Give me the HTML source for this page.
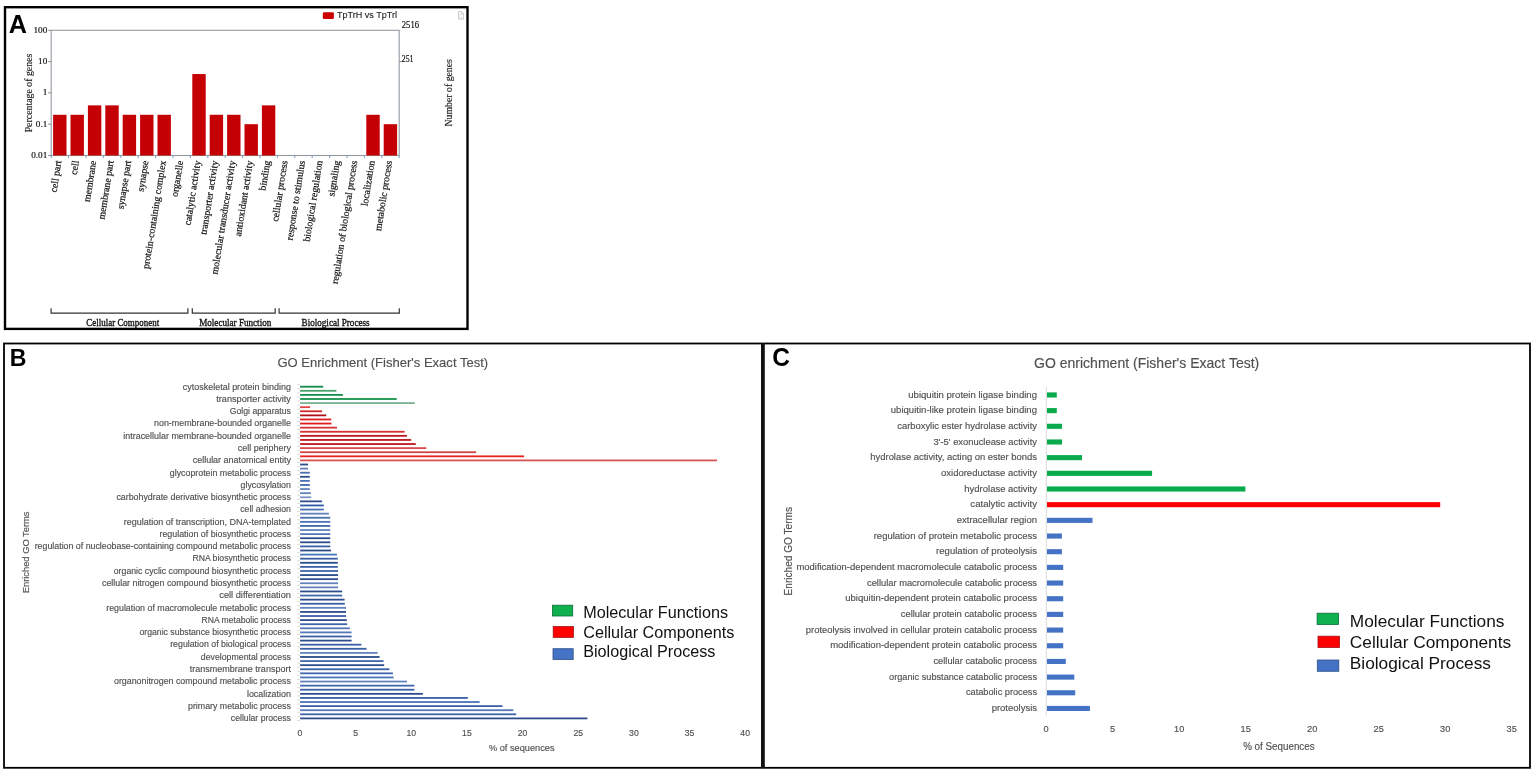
<!DOCTYPE html>
<html><head><meta charset="utf-8"><title>GO enrichment figure</title>
<style>
html,body{margin:0;padding:0;background:#fff;}
body{width:1535px;height:771px;overflow:hidden;}
svg{display:block;}

</style></head>
<body>
<svg width="1535" height="771" viewBox="0 0 1535 771" font-family="Liberation Sans, sans-serif">
<rect width="1535" height="771" fill="#fff"/>
<rect x="5" y="7.2" width="462.5" height="321.7" fill="none" stroke="#000" stroke-width="2.4"/>
<text x="8.7" y="32.5" font-family="'Liberation Sans', sans-serif" font-weight="bold" font-size="25.2" fill="#000">A</text>
<rect x="51.2" y="30.3" width="348.0" height="125.2" fill="none" stroke="#929aa2" stroke-width="1.1"/>
<line x1="48.2" y1="30.30" x2="51.2" y2="30.30" stroke="#8a8a8a" stroke-width="1"/>
<text x="47.30" y="32.80" font-family="'Liberation Serif', serif" font-size="9.2" fill="#111" stroke="#111" stroke-width="0.2" text-anchor="end">100</text>
<line x1="48.2" y1="61.60" x2="51.2" y2="61.60" stroke="#8a8a8a" stroke-width="1"/>
<text x="47.30" y="64.10" font-family="'Liberation Serif', serif" font-size="9.2" fill="#111" stroke="#111" stroke-width="0.2" text-anchor="end">10</text>
<line x1="48.2" y1="92.90" x2="51.2" y2="92.90" stroke="#8a8a8a" stroke-width="1"/>
<text x="47.30" y="95.40" font-family="'Liberation Serif', serif" font-size="9.2" fill="#111" stroke="#111" stroke-width="0.2" text-anchor="end">1</text>
<line x1="48.2" y1="124.20" x2="51.2" y2="124.20" stroke="#8a8a8a" stroke-width="1"/>
<text x="47.30" y="126.70" font-family="'Liberation Serif', serif" font-size="9.2" fill="#111" stroke="#111" stroke-width="0.2" text-anchor="end">0.1</text>
<line x1="48.2" y1="155.50" x2="51.2" y2="155.50" stroke="#8a8a8a" stroke-width="1"/>
<text x="47.30" y="158.00" font-family="'Liberation Serif', serif" font-size="9.2" fill="#111" stroke="#111" stroke-width="0.2" text-anchor="end">0.01</text>
<text x="401.8" y="28.2" font-family="'Liberation Serif', serif" font-size="10.4" fill="#111" stroke="#111" stroke-width="0.2" textLength="17.2" lengthAdjust="spacingAndGlyphs">2516</text>
<line x1="399.2" y1="61.6" x2="402.2" y2="61.6" stroke="#8a8a8a" stroke-width="1"/>
<text x="401.8" y="61.5" font-family="'Liberation Serif', serif" font-size="10.2" fill="#111" stroke="#111" stroke-width="0.2" textLength="11.7" lengthAdjust="spacingAndGlyphs">251</text>
<text transform="translate(32.2,93) rotate(-90)" font-family="'Liberation Serif', serif" font-size="9.85" fill="#222" stroke="#222" stroke-width="0.15" text-anchor="middle">Percentage of genes</text>
<text transform="translate(451.5,92.8) rotate(-90)" font-family="'Liberation Serif', serif" font-size="9.8" fill="#222" stroke="#222" stroke-width="0.15" text-anchor="middle">Number of genes</text>
<rect x="322.8" y="12.2" width="11.1" height="6.9" rx="1.3" fill="#cc0000"/>
<text x="336.9" y="17.5" font-family="'Liberation Sans', sans-serif" font-size="9.8" fill="#222" stroke="#222" stroke-width="0.12" textLength="60.2" lengthAdjust="spacingAndGlyphs">TpTrH vs TpTrl</text>
<path d="M458.5,11.6 h3.2 l1.7,1.9 v5.7 h-4.9 z" fill="#fbfbfb" stroke="#bdbdbd" stroke-width="0.75"/>
<path d="M461.6,11.7 v1.9 h1.7" fill="none" stroke="#bdbdbd" stroke-width="0.6"/>
<path d="M459.3,14.6 h3.3" fill="none" stroke="#d0d0d0" stroke-width="0.6"/>
<rect x="459.6" y="17.1" width="2.6" height="1.4" fill="#d8d8d8"/>
<rect x="53.10" y="114.78" width="13.4" height="40.72" fill="#c50005"/>
<rect x="70.50" y="114.78" width="13.4" height="40.72" fill="#c50005"/>
<rect x="87.90" y="105.36" width="13.4" height="50.14" fill="#c50005"/>
<rect x="105.30" y="105.36" width="13.4" height="50.14" fill="#c50005"/>
<rect x="122.70" y="114.78" width="13.4" height="40.72" fill="#c50005"/>
<rect x="140.10" y="114.78" width="13.4" height="40.72" fill="#c50005"/>
<rect x="157.50" y="114.78" width="13.4" height="40.72" fill="#c50005"/>
<rect x="192.30" y="74.06" width="13.4" height="81.44" fill="#c50005"/>
<rect x="209.70" y="114.78" width="13.4" height="40.72" fill="#c50005"/>
<rect x="227.10" y="114.78" width="13.4" height="40.72" fill="#c50005"/>
<rect x="244.50" y="124.20" width="13.4" height="31.30" fill="#c50005"/>
<rect x="261.90" y="105.36" width="13.4" height="50.14" fill="#c50005"/>
<rect x="366.30" y="114.78" width="13.4" height="40.72" fill="#c50005"/>
<rect x="383.70" y="124.20" width="13.4" height="31.30" fill="#c50005"/>
<line x1="51.20" y1="155.5" x2="51.20" y2="158.1" stroke="#7f9cc0" stroke-width="1"/>
<line x1="68.60" y1="155.5" x2="68.60" y2="158.1" stroke="#7f9cc0" stroke-width="1"/>
<line x1="86.00" y1="155.5" x2="86.00" y2="158.1" stroke="#7f9cc0" stroke-width="1"/>
<line x1="103.40" y1="155.5" x2="103.40" y2="158.1" stroke="#7f9cc0" stroke-width="1"/>
<line x1="120.80" y1="155.5" x2="120.80" y2="158.1" stroke="#7f9cc0" stroke-width="1"/>
<line x1="138.20" y1="155.5" x2="138.20" y2="158.1" stroke="#7f9cc0" stroke-width="1"/>
<line x1="155.60" y1="155.5" x2="155.60" y2="158.1" stroke="#7f9cc0" stroke-width="1"/>
<line x1="173.00" y1="155.5" x2="173.00" y2="158.1" stroke="#7f9cc0" stroke-width="1"/>
<line x1="190.40" y1="155.5" x2="190.40" y2="158.1" stroke="#7f9cc0" stroke-width="1"/>
<line x1="207.80" y1="155.5" x2="207.80" y2="158.1" stroke="#7f9cc0" stroke-width="1"/>
<line x1="225.20" y1="155.5" x2="225.20" y2="158.1" stroke="#7f9cc0" stroke-width="1"/>
<line x1="242.60" y1="155.5" x2="242.60" y2="158.1" stroke="#7f9cc0" stroke-width="1"/>
<line x1="260.00" y1="155.5" x2="260.00" y2="158.1" stroke="#7f9cc0" stroke-width="1"/>
<line x1="277.40" y1="155.5" x2="277.40" y2="158.1" stroke="#7f9cc0" stroke-width="1"/>
<line x1="294.80" y1="155.5" x2="294.80" y2="158.1" stroke="#7f9cc0" stroke-width="1"/>
<line x1="312.20" y1="155.5" x2="312.20" y2="158.1" stroke="#7f9cc0" stroke-width="1"/>
<line x1="329.60" y1="155.5" x2="329.60" y2="158.1" stroke="#7f9cc0" stroke-width="1"/>
<line x1="347.00" y1="155.5" x2="347.00" y2="158.1" stroke="#7f9cc0" stroke-width="1"/>
<line x1="364.40" y1="155.5" x2="364.40" y2="158.1" stroke="#7f9cc0" stroke-width="1"/>
<line x1="381.80" y1="155.5" x2="381.80" y2="158.1" stroke="#7f9cc0" stroke-width="1"/>
<line x1="399.20" y1="155.5" x2="399.20" y2="158.1" stroke="#7f9cc0" stroke-width="1"/>
<text transform="translate(61.50,161.1) rotate(-81)" font-family="'Liberation Serif', serif" font-size="9.9" fill="#111" stroke="#111" stroke-width="0.2" text-anchor="end">cell part</text>
<text transform="translate(78.90,161.1) rotate(-81)" font-family="'Liberation Serif', serif" font-size="9.9" fill="#111" stroke="#111" stroke-width="0.2" text-anchor="end">cell</text>
<text transform="translate(96.30,161.1) rotate(-81)" font-family="'Liberation Serif', serif" font-size="9.9" fill="#111" stroke="#111" stroke-width="0.2" text-anchor="end">membrane</text>
<text transform="translate(113.70,161.1) rotate(-81)" font-family="'Liberation Serif', serif" font-size="9.9" fill="#111" stroke="#111" stroke-width="0.2" text-anchor="end">membrane part</text>
<text transform="translate(131.10,161.1) rotate(-81)" font-family="'Liberation Serif', serif" font-size="9.9" fill="#111" stroke="#111" stroke-width="0.2" text-anchor="end">synapse part</text>
<text transform="translate(148.50,161.1) rotate(-81)" font-family="'Liberation Serif', serif" font-size="9.9" fill="#111" stroke="#111" stroke-width="0.2" text-anchor="end">synapse</text>
<text transform="translate(165.90,161.1) rotate(-81)" font-family="'Liberation Serif', serif" font-size="9.9" fill="#111" stroke="#111" stroke-width="0.2" text-anchor="end">protein-containing complex</text>
<text transform="translate(183.30,161.1) rotate(-81)" font-family="'Liberation Serif', serif" font-size="9.9" fill="#111" stroke="#111" stroke-width="0.2" text-anchor="end">organelle</text>
<text transform="translate(200.70,161.1) rotate(-81)" font-family="'Liberation Serif', serif" font-size="9.9" fill="#111" stroke="#111" stroke-width="0.2" text-anchor="end">catalytic activity</text>
<text transform="translate(218.10,161.1) rotate(-81)" font-family="'Liberation Serif', serif" font-size="9.9" fill="#111" stroke="#111" stroke-width="0.2" text-anchor="end">transporter activity</text>
<text transform="translate(235.50,161.1) rotate(-81)" font-family="'Liberation Serif', serif" font-size="9.9" fill="#111" stroke="#111" stroke-width="0.2" text-anchor="end">molecular transducer activity</text>
<text transform="translate(252.90,161.1) rotate(-81)" font-family="'Liberation Serif', serif" font-size="9.9" fill="#111" stroke="#111" stroke-width="0.2" text-anchor="end">antioxidant activity</text>
<text transform="translate(270.30,161.1) rotate(-81)" font-family="'Liberation Serif', serif" font-size="9.9" fill="#111" stroke="#111" stroke-width="0.2" text-anchor="end">binding</text>
<text transform="translate(287.70,161.1) rotate(-81)" font-family="'Liberation Serif', serif" font-size="9.9" fill="#111" stroke="#111" stroke-width="0.2" text-anchor="end">cellular process</text>
<text transform="translate(305.10,161.1) rotate(-81)" font-family="'Liberation Serif', serif" font-size="9.9" fill="#111" stroke="#111" stroke-width="0.2" text-anchor="end">response to stimulus</text>
<text transform="translate(322.50,161.1) rotate(-81)" font-family="'Liberation Serif', serif" font-size="9.9" fill="#111" stroke="#111" stroke-width="0.2" text-anchor="end">biological regulation</text>
<text transform="translate(339.90,161.1) rotate(-81)" font-family="'Liberation Serif', serif" font-size="9.9" fill="#111" stroke="#111" stroke-width="0.2" text-anchor="end">signaling</text>
<text transform="translate(357.30,161.1) rotate(-81)" font-family="'Liberation Serif', serif" font-size="9.9" fill="#111" stroke="#111" stroke-width="0.2" text-anchor="end">regulation of biological process</text>
<text transform="translate(374.70,161.1) rotate(-81)" font-family="'Liberation Serif', serif" font-size="9.9" fill="#111" stroke="#111" stroke-width="0.2" text-anchor="end">localization</text>
<text transform="translate(392.10,161.1) rotate(-81)" font-family="'Liberation Serif', serif" font-size="9.9" fill="#111" stroke="#111" stroke-width="0.2" text-anchor="end">metabolic process</text>
<path d="M51.1,308.2 V313.2 H187.9 V308.2" fill="none" stroke="#333" stroke-width="1.2"/>
<text x="122.75" y="325.5" font-family="'Liberation Serif', serif" font-size="10.2" fill="#111" stroke="#111" stroke-width="0.35" text-anchor="middle" textLength="72.9" lengthAdjust="spacingAndGlyphs">Cellular Component</text>
<path d="M192.3,308.2 V313.2 H275.2 V308.2" fill="none" stroke="#333" stroke-width="1.2"/>
<text x="235.25" y="325.5" font-family="'Liberation Serif', serif" font-size="10.2" fill="#111" stroke="#111" stroke-width="0.35" text-anchor="middle" textLength="72.1" lengthAdjust="spacingAndGlyphs">Molecular Function</text>
<path d="M279.1,308.2 V313.2 H399.3 V308.2" fill="none" stroke="#333" stroke-width="1.2"/>
<text x="335.6" y="325.5" font-family="'Liberation Serif', serif" font-size="10.2" fill="#111" stroke="#111" stroke-width="0.35" text-anchor="middle" textLength="68" lengthAdjust="spacingAndGlyphs">Biological Process</text>
<rect x="4" y="343.5" width="1526" height="424.3" fill="none" stroke="#000" stroke-width="1.8"/>
<rect x="761" y="343" width="3.8" height="425" fill="#111"/>
<text transform="translate(9.8,366) scale(0.94,1)" font-family="'Liberation Sans', sans-serif" font-weight="bold" font-size="24.6" fill="#000">B</text>
<text x="277.40" y="366.70" font-size="13.58" fill="#505050" textLength="210.72" lengthAdjust="spacingAndGlyphs" stroke="#505050" stroke-width="0.15">GO Enrichment (Fisher&#39;s Exact Test)</text>
<rect x="300.1" y="385.80" width="23.10" height="1.8" fill="#12884a"/>
<rect x="300.1" y="389.90" width="36.30" height="1.8" fill="#4aa56b"/>
<rect x="300.1" y="393.99" width="42.80" height="1.8" fill="#0f8f48"/>
<rect x="300.1" y="398.09" width="96.60" height="1.8" fill="#16934b"/>
<rect x="300.1" y="402.18" width="114.70" height="1.8" fill="#7ab293"/>
<rect x="300.1" y="406.28" width="10.00" height="1.8" fill="#e04444"/>
<rect x="300.1" y="410.37" width="22.00" height="1.8" fill="#d42828"/>
<rect x="300.1" y="414.47" width="26.20" height="1.8" fill="#b01018"/>
<rect x="300.1" y="418.56" width="31.10" height="1.8" fill="#e01c1c"/>
<rect x="300.1" y="422.66" width="31.40" height="1.8" fill="#e01c1c"/>
<rect x="300.1" y="426.75" width="36.90" height="1.8" fill="#d83434"/>
<rect x="300.1" y="430.85" width="104.50" height="1.8" fill="#d83030"/>
<rect x="300.1" y="434.94" width="106.80" height="1.8" fill="#b81520"/>
<rect x="300.1" y="439.04" width="111.10" height="1.8" fill="#c01820"/>
<rect x="300.1" y="443.13" width="115.70" height="1.8" fill="#c0141c"/>
<rect x="300.1" y="447.23" width="126.20" height="1.8" fill="#d84848"/>
<rect x="300.1" y="451.32" width="176.10" height="1.8" fill="#d04444"/>
<rect x="300.1" y="455.42" width="224.00" height="1.8" fill="#e82020"/>
<rect x="300.1" y="459.51" width="416.90" height="1.8" fill="#d85454"/>
<rect x="300.1" y="463.61" width="8.00" height="1.8" fill="#2e4d8c"/>
<rect x="300.1" y="467.70" width="8.00" height="1.8" fill="#6080b8"/>
<rect x="300.1" y="471.80" width="9.70" height="1.8" fill="#4a70b0"/>
<rect x="300.1" y="475.89" width="9.70" height="1.8" fill="#2e4d8c"/>
<rect x="300.1" y="479.99" width="9.70" height="1.8" fill="#4a70b0"/>
<rect x="300.1" y="484.08" width="9.70" height="1.8" fill="#3f66ab"/>
<rect x="300.1" y="488.18" width="9.70" height="1.8" fill="#6283bd"/>
<rect x="300.1" y="492.27" width="10.70" height="1.8" fill="#6283bd"/>
<rect x="300.1" y="496.37" width="11.10" height="1.8" fill="#7a94c4"/>
<rect x="300.1" y="500.46" width="22.00" height="1.8" fill="#2e4d8c"/>
<rect x="300.1" y="504.56" width="23.70" height="1.8" fill="#2f58a8"/>
<rect x="300.1" y="508.65" width="23.70" height="1.8" fill="#4a70b0"/>
<rect x="300.1" y="512.75" width="28.80" height="1.8" fill="#6283bd"/>
<rect x="300.1" y="516.84" width="30.20" height="1.8" fill="#4a70b0"/>
<rect x="300.1" y="520.94" width="30.20" height="1.8" fill="#4a72b8"/>
<rect x="300.1" y="525.03" width="30.20" height="1.8" fill="#3f66ab"/>
<rect x="300.1" y="529.13" width="30.20" height="1.8" fill="#6283bd"/>
<rect x="300.1" y="533.22" width="30.20" height="1.8" fill="#5577b5"/>
<rect x="300.1" y="537.32" width="30.20" height="1.8" fill="#2e4d8c"/>
<rect x="300.1" y="541.41" width="30.20" height="1.8" fill="#2e4d8c"/>
<rect x="300.1" y="545.51" width="30.20" height="1.8" fill="#3a5fa5"/>
<rect x="300.1" y="549.60" width="31.00" height="1.8" fill="#2e4d8c"/>
<rect x="300.1" y="553.70" width="36.80" height="1.8" fill="#4a72b8"/>
<rect x="300.1" y="557.79" width="37.70" height="1.8" fill="#3a5fa5"/>
<rect x="300.1" y="561.89" width="37.70" height="1.8" fill="#2e4d8c"/>
<rect x="300.1" y="565.98" width="37.70" height="1.8" fill="#3a5fa5"/>
<rect x="300.1" y="570.08" width="38.00" height="1.8" fill="#3f66ab"/>
<rect x="300.1" y="574.17" width="38.00" height="1.8" fill="#2e4d8c"/>
<rect x="300.1" y="578.27" width="38.00" height="1.8" fill="#2e4d8c"/>
<rect x="300.1" y="582.36" width="38.00" height="1.8" fill="#6283bd"/>
<rect x="300.1" y="586.46" width="38.00" height="1.8" fill="#6283bd"/>
<rect x="300.1" y="590.55" width="42.10" height="1.8" fill="#2e4d8c"/>
<rect x="300.1" y="594.65" width="42.10" height="1.8" fill="#3f66ab"/>
<rect x="300.1" y="598.74" width="44.50" height="1.8" fill="#2e4d8c"/>
<rect x="300.1" y="602.84" width="44.70" height="1.8" fill="#3a5fa5"/>
<rect x="300.1" y="606.93" width="45.90" height="1.8" fill="#6283bd"/>
<rect x="300.1" y="611.03" width="45.90" height="1.8" fill="#2e4d8c"/>
<rect x="300.1" y="615.12" width="45.90" height="1.8" fill="#3a5fa5"/>
<rect x="300.1" y="619.22" width="46.70" height="1.8" fill="#2e4d8c"/>
<rect x="300.1" y="623.31" width="47.10" height="1.8" fill="#3f66ab"/>
<rect x="300.1" y="627.41" width="49.80" height="1.8" fill="#5577b5"/>
<rect x="300.1" y="631.50" width="51.50" height="1.8" fill="#5577b5"/>
<rect x="300.1" y="635.60" width="51.50" height="1.8" fill="#3a5fa5"/>
<rect x="300.1" y="639.69" width="51.50" height="1.8" fill="#2e4d8c"/>
<rect x="300.1" y="643.79" width="61.30" height="1.8" fill="#3a5fa5"/>
<rect x="300.1" y="647.88" width="66.40" height="1.8" fill="#3a5fa5"/>
<rect x="300.1" y="651.98" width="77.50" height="1.8" fill="#6283bd"/>
<rect x="300.1" y="656.07" width="79.50" height="1.8" fill="#2e4d8c"/>
<rect x="300.1" y="660.17" width="83.40" height="1.8" fill="#3f66ab"/>
<rect x="300.1" y="664.26" width="84.10" height="1.8" fill="#2e4d8c"/>
<rect x="300.1" y="668.36" width="89.30" height="1.8" fill="#3a5fa5"/>
<rect x="300.1" y="672.45" width="92.80" height="1.8" fill="#3f66ab"/>
<rect x="300.1" y="676.55" width="93.50" height="1.8" fill="#4a72b8"/>
<rect x="300.1" y="680.64" width="106.80" height="1.8" fill="#6283bd"/>
<rect x="300.1" y="684.74" width="114.30" height="1.8" fill="#3f66ab"/>
<rect x="300.1" y="688.83" width="114.30" height="1.8" fill="#3a5fa5"/>
<rect x="300.1" y="692.93" width="122.80" height="1.8" fill="#2e4d8c"/>
<rect x="300.1" y="697.02" width="167.70" height="1.8" fill="#3a5fa5"/>
<rect x="300.1" y="701.12" width="179.50" height="1.8" fill="#4a72b8"/>
<rect x="300.1" y="705.21" width="202.40" height="1.8" fill="#3a5fa5"/>
<rect x="300.1" y="709.31" width="213.20" height="1.8" fill="#5577b5"/>
<rect x="300.1" y="713.40" width="216.10" height="1.8" fill="#3f66ab"/>
<rect x="300.1" y="717.50" width="287.30" height="1.8" fill="#2e4d8c"/>
<line x1="297.2" y1="384.65" x2="300" y2="384.65" stroke="#d0d0d0" stroke-width="0.8"/>
<line x1="297.2" y1="388.75" x2="300" y2="388.75" stroke="#d0d0d0" stroke-width="0.8"/>
<line x1="297.2" y1="392.84" x2="300" y2="392.84" stroke="#d0d0d0" stroke-width="0.8"/>
<line x1="297.2" y1="396.94" x2="300" y2="396.94" stroke="#d0d0d0" stroke-width="0.8"/>
<line x1="297.2" y1="401.03" x2="300" y2="401.03" stroke="#d0d0d0" stroke-width="0.8"/>
<line x1="297.2" y1="405.13" x2="300" y2="405.13" stroke="#d0d0d0" stroke-width="0.8"/>
<line x1="297.2" y1="409.22" x2="300" y2="409.22" stroke="#d0d0d0" stroke-width="0.8"/>
<line x1="297.2" y1="413.32" x2="300" y2="413.32" stroke="#d0d0d0" stroke-width="0.8"/>
<line x1="297.2" y1="417.41" x2="300" y2="417.41" stroke="#d0d0d0" stroke-width="0.8"/>
<line x1="297.2" y1="421.51" x2="300" y2="421.51" stroke="#d0d0d0" stroke-width="0.8"/>
<line x1="297.2" y1="425.60" x2="300" y2="425.60" stroke="#d0d0d0" stroke-width="0.8"/>
<line x1="297.2" y1="429.70" x2="300" y2="429.70" stroke="#d0d0d0" stroke-width="0.8"/>
<line x1="297.2" y1="433.79" x2="300" y2="433.79" stroke="#d0d0d0" stroke-width="0.8"/>
<line x1="297.2" y1="437.89" x2="300" y2="437.89" stroke="#d0d0d0" stroke-width="0.8"/>
<line x1="297.2" y1="441.98" x2="300" y2="441.98" stroke="#d0d0d0" stroke-width="0.8"/>
<line x1="297.2" y1="446.08" x2="300" y2="446.08" stroke="#d0d0d0" stroke-width="0.8"/>
<line x1="297.2" y1="450.17" x2="300" y2="450.17" stroke="#d0d0d0" stroke-width="0.8"/>
<line x1="297.2" y1="454.27" x2="300" y2="454.27" stroke="#d0d0d0" stroke-width="0.8"/>
<line x1="297.2" y1="458.36" x2="300" y2="458.36" stroke="#d0d0d0" stroke-width="0.8"/>
<line x1="297.2" y1="462.46" x2="300" y2="462.46" stroke="#d0d0d0" stroke-width="0.8"/>
<line x1="297.2" y1="466.55" x2="300" y2="466.55" stroke="#d0d0d0" stroke-width="0.8"/>
<line x1="297.2" y1="470.65" x2="300" y2="470.65" stroke="#d0d0d0" stroke-width="0.8"/>
<line x1="297.2" y1="474.74" x2="300" y2="474.74" stroke="#d0d0d0" stroke-width="0.8"/>
<line x1="297.2" y1="478.84" x2="300" y2="478.84" stroke="#d0d0d0" stroke-width="0.8"/>
<line x1="297.2" y1="482.93" x2="300" y2="482.93" stroke="#d0d0d0" stroke-width="0.8"/>
<line x1="297.2" y1="487.03" x2="300" y2="487.03" stroke="#d0d0d0" stroke-width="0.8"/>
<line x1="297.2" y1="491.12" x2="300" y2="491.12" stroke="#d0d0d0" stroke-width="0.8"/>
<line x1="297.2" y1="495.22" x2="300" y2="495.22" stroke="#d0d0d0" stroke-width="0.8"/>
<line x1="297.2" y1="499.31" x2="300" y2="499.31" stroke="#d0d0d0" stroke-width="0.8"/>
<line x1="297.2" y1="503.41" x2="300" y2="503.41" stroke="#d0d0d0" stroke-width="0.8"/>
<line x1="297.2" y1="507.50" x2="300" y2="507.50" stroke="#d0d0d0" stroke-width="0.8"/>
<line x1="297.2" y1="511.60" x2="300" y2="511.60" stroke="#d0d0d0" stroke-width="0.8"/>
<line x1="297.2" y1="515.69" x2="300" y2="515.69" stroke="#d0d0d0" stroke-width="0.8"/>
<line x1="297.2" y1="519.79" x2="300" y2="519.79" stroke="#d0d0d0" stroke-width="0.8"/>
<line x1="297.2" y1="523.88" x2="300" y2="523.88" stroke="#d0d0d0" stroke-width="0.8"/>
<line x1="297.2" y1="527.98" x2="300" y2="527.98" stroke="#d0d0d0" stroke-width="0.8"/>
<line x1="297.2" y1="532.07" x2="300" y2="532.07" stroke="#d0d0d0" stroke-width="0.8"/>
<line x1="297.2" y1="536.17" x2="300" y2="536.17" stroke="#d0d0d0" stroke-width="0.8"/>
<line x1="297.2" y1="540.26" x2="300" y2="540.26" stroke="#d0d0d0" stroke-width="0.8"/>
<line x1="297.2" y1="544.36" x2="300" y2="544.36" stroke="#d0d0d0" stroke-width="0.8"/>
<line x1="297.2" y1="548.45" x2="300" y2="548.45" stroke="#d0d0d0" stroke-width="0.8"/>
<line x1="297.2" y1="552.55" x2="300" y2="552.55" stroke="#d0d0d0" stroke-width="0.8"/>
<line x1="297.2" y1="556.65" x2="300" y2="556.65" stroke="#d0d0d0" stroke-width="0.8"/>
<line x1="297.2" y1="560.74" x2="300" y2="560.74" stroke="#d0d0d0" stroke-width="0.8"/>
<line x1="297.2" y1="564.84" x2="300" y2="564.84" stroke="#d0d0d0" stroke-width="0.8"/>
<line x1="297.2" y1="568.93" x2="300" y2="568.93" stroke="#d0d0d0" stroke-width="0.8"/>
<line x1="297.2" y1="573.03" x2="300" y2="573.03" stroke="#d0d0d0" stroke-width="0.8"/>
<line x1="297.2" y1="577.12" x2="300" y2="577.12" stroke="#d0d0d0" stroke-width="0.8"/>
<line x1="297.2" y1="581.22" x2="300" y2="581.22" stroke="#d0d0d0" stroke-width="0.8"/>
<line x1="297.2" y1="585.31" x2="300" y2="585.31" stroke="#d0d0d0" stroke-width="0.8"/>
<line x1="297.2" y1="589.41" x2="300" y2="589.41" stroke="#d0d0d0" stroke-width="0.8"/>
<line x1="297.2" y1="593.50" x2="300" y2="593.50" stroke="#d0d0d0" stroke-width="0.8"/>
<line x1="297.2" y1="597.60" x2="300" y2="597.60" stroke="#d0d0d0" stroke-width="0.8"/>
<line x1="297.2" y1="601.69" x2="300" y2="601.69" stroke="#d0d0d0" stroke-width="0.8"/>
<line x1="297.2" y1="605.79" x2="300" y2="605.79" stroke="#d0d0d0" stroke-width="0.8"/>
<line x1="297.2" y1="609.88" x2="300" y2="609.88" stroke="#d0d0d0" stroke-width="0.8"/>
<line x1="297.2" y1="613.98" x2="300" y2="613.98" stroke="#d0d0d0" stroke-width="0.8"/>
<line x1="297.2" y1="618.07" x2="300" y2="618.07" stroke="#d0d0d0" stroke-width="0.8"/>
<line x1="297.2" y1="622.17" x2="300" y2="622.17" stroke="#d0d0d0" stroke-width="0.8"/>
<line x1="297.2" y1="626.26" x2="300" y2="626.26" stroke="#d0d0d0" stroke-width="0.8"/>
<line x1="297.2" y1="630.36" x2="300" y2="630.36" stroke="#d0d0d0" stroke-width="0.8"/>
<line x1="297.2" y1="634.45" x2="300" y2="634.45" stroke="#d0d0d0" stroke-width="0.8"/>
<line x1="297.2" y1="638.55" x2="300" y2="638.55" stroke="#d0d0d0" stroke-width="0.8"/>
<line x1="297.2" y1="642.64" x2="300" y2="642.64" stroke="#d0d0d0" stroke-width="0.8"/>
<line x1="297.2" y1="646.74" x2="300" y2="646.74" stroke="#d0d0d0" stroke-width="0.8"/>
<line x1="297.2" y1="650.83" x2="300" y2="650.83" stroke="#d0d0d0" stroke-width="0.8"/>
<line x1="297.2" y1="654.93" x2="300" y2="654.93" stroke="#d0d0d0" stroke-width="0.8"/>
<line x1="297.2" y1="659.02" x2="300" y2="659.02" stroke="#d0d0d0" stroke-width="0.8"/>
<line x1="297.2" y1="663.12" x2="300" y2="663.12" stroke="#d0d0d0" stroke-width="0.8"/>
<line x1="297.2" y1="667.21" x2="300" y2="667.21" stroke="#d0d0d0" stroke-width="0.8"/>
<line x1="297.2" y1="671.31" x2="300" y2="671.31" stroke="#d0d0d0" stroke-width="0.8"/>
<line x1="297.2" y1="675.40" x2="300" y2="675.40" stroke="#d0d0d0" stroke-width="0.8"/>
<line x1="297.2" y1="679.50" x2="300" y2="679.50" stroke="#d0d0d0" stroke-width="0.8"/>
<line x1="297.2" y1="683.59" x2="300" y2="683.59" stroke="#d0d0d0" stroke-width="0.8"/>
<line x1="297.2" y1="687.69" x2="300" y2="687.69" stroke="#d0d0d0" stroke-width="0.8"/>
<line x1="297.2" y1="691.78" x2="300" y2="691.78" stroke="#d0d0d0" stroke-width="0.8"/>
<line x1="297.2" y1="695.88" x2="300" y2="695.88" stroke="#d0d0d0" stroke-width="0.8"/>
<line x1="297.2" y1="699.97" x2="300" y2="699.97" stroke="#d0d0d0" stroke-width="0.8"/>
<line x1="297.2" y1="704.07" x2="300" y2="704.07" stroke="#d0d0d0" stroke-width="0.8"/>
<line x1="297.2" y1="708.16" x2="300" y2="708.16" stroke="#d0d0d0" stroke-width="0.8"/>
<line x1="297.2" y1="712.26" x2="300" y2="712.26" stroke="#d0d0d0" stroke-width="0.8"/>
<line x1="297.2" y1="716.35" x2="300" y2="716.35" stroke="#d0d0d0" stroke-width="0.8"/>
<line x1="297.2" y1="720.45" x2="300" y2="720.45" stroke="#d0d0d0" stroke-width="0.8"/>
<text x="290.90" y="389.50" font-size="8.87" fill="#505050" text-anchor="end" textLength="108.03" lengthAdjust="spacingAndGlyphs" stroke="#505050" stroke-width="0.15">cytoskeletal protein binding</text>
<text x="290.90" y="401.79" font-size="8.87" fill="#505050" text-anchor="end" textLength="74.63" lengthAdjust="spacingAndGlyphs" stroke="#505050" stroke-width="0.15">transporter activity</text>
<text x="290.90" y="414.07" font-size="8.87" fill="#505050" text-anchor="end" textLength="61.07" lengthAdjust="spacingAndGlyphs" stroke="#505050" stroke-width="0.15">Golgi apparatus</text>
<text x="290.90" y="426.36" font-size="8.87" fill="#505050" text-anchor="end" textLength="136.85" lengthAdjust="spacingAndGlyphs" stroke="#505050" stroke-width="0.15">non-membrane-bounded organelle</text>
<text x="290.90" y="438.64" font-size="8.87" fill="#505050" text-anchor="end" textLength="167.58" lengthAdjust="spacingAndGlyphs" stroke="#505050" stroke-width="0.15">intracellular membrane-bounded organelle</text>
<text x="290.90" y="450.93" font-size="8.87" fill="#505050" text-anchor="end" textLength="53.01" lengthAdjust="spacingAndGlyphs" stroke="#505050" stroke-width="0.15">cell periphery</text>
<text x="290.90" y="463.21" font-size="8.87" fill="#505050" text-anchor="end" textLength="98.21" lengthAdjust="spacingAndGlyphs" stroke="#505050" stroke-width="0.15">cellular anatomical entity</text>
<text x="290.90" y="475.50" font-size="8.87" fill="#505050" text-anchor="end" textLength="121.09" lengthAdjust="spacingAndGlyphs" stroke="#505050" stroke-width="0.15">glycoprotein metabolic process</text>
<text x="290.90" y="487.78" font-size="8.87" fill="#505050" text-anchor="end" textLength="50.30" lengthAdjust="spacingAndGlyphs" stroke="#505050" stroke-width="0.15">glycosylation</text>
<text x="290.90" y="500.07" font-size="8.87" fill="#505050" text-anchor="end" textLength="174.50" lengthAdjust="spacingAndGlyphs" stroke="#505050" stroke-width="0.15">carbohydrate derivative biosynthetic process</text>
<text x="290.90" y="512.35" font-size="8.87" fill="#505050" text-anchor="end" textLength="50.62" lengthAdjust="spacingAndGlyphs" stroke="#505050" stroke-width="0.15">cell adhesion</text>
<text x="290.90" y="524.64" font-size="8.87" fill="#505050" text-anchor="end" textLength="167.14" lengthAdjust="spacingAndGlyphs" stroke="#505050" stroke-width="0.15">regulation of transcription, DNA-templated</text>
<text x="290.90" y="536.92" font-size="8.87" fill="#505050" text-anchor="end" textLength="131.45" lengthAdjust="spacingAndGlyphs" stroke="#505050" stroke-width="0.15">regulation of biosynthetic process</text>
<text x="290.90" y="549.21" font-size="8.87" fill="#505050" text-anchor="end" textLength="256.20" lengthAdjust="spacingAndGlyphs" stroke="#505050" stroke-width="0.15">regulation of nucleobase-containing compound metabolic process</text>
<text x="290.90" y="561.49" font-size="8.87" fill="#505050" text-anchor="end" textLength="98.45" lengthAdjust="spacingAndGlyphs" stroke="#505050" stroke-width="0.15">RNA biosynthetic process</text>
<text x="290.90" y="573.78" font-size="8.87" fill="#505050" text-anchor="end" textLength="177.12" lengthAdjust="spacingAndGlyphs" stroke="#505050" stroke-width="0.15">organic cyclic compound biosynthetic process</text>
<text x="290.90" y="586.06" font-size="8.87" fill="#505050" text-anchor="end" textLength="188.93" lengthAdjust="spacingAndGlyphs" stroke="#505050" stroke-width="0.15">cellular nitrogen compound biosynthetic process</text>
<text x="290.90" y="598.35" font-size="8.87" fill="#505050" text-anchor="end" textLength="71.55" lengthAdjust="spacingAndGlyphs" stroke="#505050" stroke-width="0.15">cell differentiation</text>
<text x="290.90" y="610.63" font-size="8.87" fill="#505050" text-anchor="end" textLength="184.68" lengthAdjust="spacingAndGlyphs" stroke="#505050" stroke-width="0.15">regulation of macromolecule metabolic process</text>
<text x="290.90" y="622.92" font-size="8.87" fill="#505050" text-anchor="end" textLength="89.37" lengthAdjust="spacingAndGlyphs" stroke="#505050" stroke-width="0.15">RNA metabolic process</text>
<text x="290.90" y="635.20" font-size="8.87" fill="#505050" text-anchor="end" textLength="151.45" lengthAdjust="spacingAndGlyphs" stroke="#505050" stroke-width="0.15">organic substance biosynthetic process</text>
<text x="290.90" y="647.49" font-size="8.87" fill="#505050" text-anchor="end" textLength="120.71" lengthAdjust="spacingAndGlyphs" stroke="#505050" stroke-width="0.15">regulation of biological process</text>
<text x="290.90" y="659.77" font-size="8.87" fill="#505050" text-anchor="end" textLength="90.15" lengthAdjust="spacingAndGlyphs" stroke="#505050" stroke-width="0.15">developmental process</text>
<text x="290.90" y="672.06" font-size="8.87" fill="#505050" text-anchor="end" textLength="101.05" lengthAdjust="spacingAndGlyphs" stroke="#505050" stroke-width="0.15">transmembrane transport</text>
<text x="290.90" y="684.34" font-size="8.87" fill="#505050" text-anchor="end" textLength="176.90" lengthAdjust="spacingAndGlyphs" stroke="#505050" stroke-width="0.15">organonitrogen compound metabolic process</text>
<text x="290.90" y="696.63" font-size="8.87" fill="#505050" text-anchor="end" textLength="43.97" lengthAdjust="spacingAndGlyphs" stroke="#505050" stroke-width="0.15">localization</text>
<text x="290.90" y="708.91" font-size="8.87" fill="#505050" text-anchor="end" textLength="102.88" lengthAdjust="spacingAndGlyphs" stroke="#505050" stroke-width="0.15">primary metabolic process</text>
<text x="290.90" y="721.20" font-size="8.87" fill="#505050" text-anchor="end" textLength="60.03" lengthAdjust="spacingAndGlyphs" stroke="#505050" stroke-width="0.15">cellular process</text>
<text x="300.00" y="736.20" font-size="8.87" fill="#505050" text-anchor="middle" textLength="4.84" lengthAdjust="spacingAndGlyphs" stroke="#505050" stroke-width="0.15">0</text>
<text x="355.65" y="736.20" font-size="8.87" fill="#505050" text-anchor="middle" textLength="4.84" lengthAdjust="spacingAndGlyphs" stroke="#505050" stroke-width="0.15">5</text>
<text x="411.30" y="736.20" font-size="8.87" fill="#505050" text-anchor="middle" textLength="9.67" lengthAdjust="spacingAndGlyphs" stroke="#505050" stroke-width="0.15">10</text>
<text x="466.95" y="736.20" font-size="8.87" fill="#505050" text-anchor="middle" textLength="9.67" lengthAdjust="spacingAndGlyphs" stroke="#505050" stroke-width="0.15">15</text>
<text x="522.60" y="736.20" font-size="8.87" fill="#505050" text-anchor="middle" textLength="9.67" lengthAdjust="spacingAndGlyphs" stroke="#505050" stroke-width="0.15">20</text>
<text x="578.25" y="736.20" font-size="8.87" fill="#505050" text-anchor="middle" textLength="9.67" lengthAdjust="spacingAndGlyphs" stroke="#505050" stroke-width="0.15">25</text>
<text x="633.90" y="736.20" font-size="8.87" fill="#505050" text-anchor="middle" textLength="9.67" lengthAdjust="spacingAndGlyphs" stroke="#505050" stroke-width="0.15">30</text>
<text x="689.55" y="736.20" font-size="8.87" fill="#505050" text-anchor="middle" textLength="9.67" lengthAdjust="spacingAndGlyphs" stroke="#505050" stroke-width="0.15">35</text>
<text x="745.20" y="736.20" font-size="8.87" fill="#505050" text-anchor="middle" textLength="9.67" lengthAdjust="spacingAndGlyphs" stroke="#505050" stroke-width="0.15">40</text>
<text x="521.75" y="750.70" font-size="9.71" fill="#505050" text-anchor="middle" textLength="65.49" lengthAdjust="spacingAndGlyphs" stroke="#505050" stroke-width="0.15">% of sequences</text>
<g transform="translate(28.6,552.4) rotate(-90)">
<text x="0.00" y="0.00" font-size="9.71" fill="#505050" text-anchor="middle" textLength="81.76" lengthAdjust="spacingAndGlyphs" stroke="#505050" stroke-width="0.15">Enriched GO Terms</text>
</g>
<rect x="552.5" y="605.2" width="20.2" height="10.8" fill="#0fb04f" stroke="#0b6b3c" stroke-width="0.8"/>
<text x="583.2" y="618.2" font-family="'Liberation Sans', sans-serif" font-size="16.2" fill="#111">Molecular Functions</text>
<rect x="553.2" y="626.6" width="20.2" height="10.8" fill="#ff0000" stroke="#a80e14" stroke-width="0.8"/>
<text x="583.2" y="637.7" font-family="'Liberation Sans', sans-serif" font-size="16.2" fill="#111">Cellular Components</text>
<rect x="553.0" y="648.7" width="20.2" height="10.8" fill="#4472c4" stroke="#2f4f8a" stroke-width="0.8"/>
<text x="583.2" y="657.2" font-family="'Liberation Sans', sans-serif" font-size="16.2" fill="#111">Biological Process</text>
<text transform="translate(772.3,366.0) scale(0.95,1)" font-family="'Liberation Sans', sans-serif" font-weight="bold" font-size="25.8" fill="#000">C</text>
<text x="1034.00" y="367.90" font-size="14.51" fill="#505050" textLength="225.30" lengthAdjust="spacingAndGlyphs" stroke="#505050" stroke-width="0.15">GO enrichment (Fisher&#39;s Exact Test)</text>
<line x1="1046.3" y1="387" x2="1046.3" y2="715.5" stroke="#d9d9d9" stroke-width="1"/>
<rect x="1047.0" y="392.40" width="9.80" height="5.1" fill="#08aa4c"/>
<text x="1037.00" y="397.60" font-size="9.47" fill="#505050" text-anchor="end" textLength="128.74" lengthAdjust="spacingAndGlyphs" stroke="#505050" stroke-width="0.15">ubiquitin protein ligase binding</text>
<rect x="1047.0" y="408.07" width="9.80" height="5.1" fill="#08aa4c"/>
<text x="1037.00" y="413.27" font-size="9.47" fill="#505050" text-anchor="end" textLength="146.22" lengthAdjust="spacingAndGlyphs" stroke="#505050" stroke-width="0.15">ubiquitin-like protein ligase binding</text>
<rect x="1047.0" y="423.75" width="15.00" height="5.1" fill="#08aa4c"/>
<text x="1037.00" y="428.95" font-size="9.47" fill="#505050" text-anchor="end" textLength="139.78" lengthAdjust="spacingAndGlyphs" stroke="#505050" stroke-width="0.15">carboxylic ester hydrolase activity</text>
<rect x="1047.0" y="439.43" width="15.00" height="5.1" fill="#08aa4c"/>
<text x="1037.00" y="444.62" font-size="9.47" fill="#505050" text-anchor="end" textLength="103.58" lengthAdjust="spacingAndGlyphs" stroke="#505050" stroke-width="0.15">3&#39;-5&#39; exonuclease activity</text>
<rect x="1047.0" y="455.10" width="35.00" height="5.1" fill="#08aa4c"/>
<text x="1037.00" y="460.30" font-size="9.47" fill="#505050" text-anchor="end" textLength="166.66" lengthAdjust="spacingAndGlyphs" stroke="#505050" stroke-width="0.15">hydrolase activity, acting on ester bonds</text>
<rect x="1047.0" y="470.77" width="105.10" height="5.1" fill="#08aa4c"/>
<text x="1037.00" y="475.97" font-size="9.47" fill="#505050" text-anchor="end" textLength="95.96" lengthAdjust="spacingAndGlyphs" stroke="#505050" stroke-width="0.15">oxidoreductase activity</text>
<rect x="1047.0" y="486.45" width="198.40" height="5.1" fill="#08aa4c"/>
<text x="1037.00" y="491.65" font-size="9.47" fill="#505050" text-anchor="end" textLength="72.66" lengthAdjust="spacingAndGlyphs" stroke="#505050" stroke-width="0.15">hydrolase activity</text>
<rect x="1047.0" y="502.12" width="393.20" height="5.1" fill="#ff0000"/>
<text x="1037.00" y="507.32" font-size="9.47" fill="#505050" text-anchor="end" textLength="66.64" lengthAdjust="spacingAndGlyphs" stroke="#505050" stroke-width="0.15">catalytic activity</text>
<rect x="1047.0" y="517.80" width="45.50" height="5.1" fill="#4472c4"/>
<text x="1037.00" y="523.00" font-size="9.47" fill="#505050" text-anchor="end" textLength="80.22" lengthAdjust="spacingAndGlyphs" stroke="#505050" stroke-width="0.15">extracellular region</text>
<rect x="1047.0" y="533.48" width="14.90" height="5.1" fill="#4472c4"/>
<text x="1037.00" y="538.67" font-size="9.47" fill="#505050" text-anchor="end" textLength="163.31" lengthAdjust="spacingAndGlyphs" stroke="#505050" stroke-width="0.15">regulation of protein metabolic process</text>
<rect x="1047.0" y="549.15" width="14.90" height="5.1" fill="#4472c4"/>
<text x="1037.00" y="554.35" font-size="9.47" fill="#505050" text-anchor="end" textLength="100.86" lengthAdjust="spacingAndGlyphs" stroke="#505050" stroke-width="0.15">regulation of proteolysis</text>
<rect x="1047.0" y="564.83" width="16.20" height="5.1" fill="#4472c4"/>
<text x="1037.00" y="570.02" font-size="9.47" fill="#505050" text-anchor="end" textLength="240.59" lengthAdjust="spacingAndGlyphs" stroke="#505050" stroke-width="0.15">modification-dependent macromolecule catabolic process</text>
<rect x="1047.0" y="580.50" width="16.20" height="5.1" fill="#4472c4"/>
<text x="1037.00" y="585.70" font-size="9.47" fill="#505050" text-anchor="end" textLength="170.00" lengthAdjust="spacingAndGlyphs" stroke="#505050" stroke-width="0.15">cellular macromolecule catabolic process</text>
<rect x="1047.0" y="596.18" width="16.20" height="5.1" fill="#4472c4"/>
<text x="1037.00" y="601.38" font-size="9.47" fill="#505050" text-anchor="end" textLength="191.72" lengthAdjust="spacingAndGlyphs" stroke="#505050" stroke-width="0.15">ubiquitin-dependent protein catabolic process</text>
<rect x="1047.0" y="611.85" width="16.20" height="5.1" fill="#4472c4"/>
<text x="1037.00" y="617.05" font-size="9.47" fill="#505050" text-anchor="end" textLength="136.24" lengthAdjust="spacingAndGlyphs" stroke="#505050" stroke-width="0.15">cellular protein catabolic process</text>
<rect x="1047.0" y="627.53" width="16.20" height="5.1" fill="#4472c4"/>
<text x="1037.00" y="632.73" font-size="9.47" fill="#505050" text-anchor="end" textLength="231.18" lengthAdjust="spacingAndGlyphs" stroke="#505050" stroke-width="0.15">proteolysis involved in cellular protein catabolic process</text>
<rect x="1047.0" y="643.20" width="16.20" height="5.1" fill="#4472c4"/>
<text x="1037.00" y="648.40" font-size="9.47" fill="#505050" text-anchor="end" textLength="206.83" lengthAdjust="spacingAndGlyphs" stroke="#505050" stroke-width="0.15">modification-dependent protein catabolic process</text>
<rect x="1047.0" y="658.88" width="18.80" height="5.1" fill="#4472c4"/>
<text x="1037.00" y="664.07" font-size="9.47" fill="#505050" text-anchor="end" textLength="103.51" lengthAdjust="spacingAndGlyphs" stroke="#505050" stroke-width="0.15">cellular catabolic process</text>
<rect x="1047.0" y="674.55" width="27.30" height="5.1" fill="#4472c4"/>
<text x="1037.00" y="679.75" font-size="9.47" fill="#505050" text-anchor="end" textLength="147.90" lengthAdjust="spacingAndGlyphs" stroke="#505050" stroke-width="0.15">organic substance catabolic process</text>
<rect x="1047.0" y="690.23" width="28.20" height="5.1" fill="#4472c4"/>
<text x="1037.00" y="695.43" font-size="9.47" fill="#505050" text-anchor="end" textLength="71.06" lengthAdjust="spacingAndGlyphs" stroke="#505050" stroke-width="0.15">catabolic process</text>
<rect x="1047.0" y="705.90" width="42.90" height="5.1" fill="#4472c4"/>
<text x="1037.00" y="711.10" font-size="9.47" fill="#505050" text-anchor="end" textLength="45.35" lengthAdjust="spacingAndGlyphs" stroke="#505050" stroke-width="0.15">proteolysis</text>
<text x="1046.20" y="732.30" font-size="9.47" fill="#505050" text-anchor="middle" textLength="5.16" lengthAdjust="spacingAndGlyphs" stroke="#505050" stroke-width="0.15">0</text>
<text x="1112.70" y="732.30" font-size="9.47" fill="#505050" text-anchor="middle" textLength="5.16" lengthAdjust="spacingAndGlyphs" stroke="#505050" stroke-width="0.15">5</text>
<text x="1179.20" y="732.30" font-size="9.47" fill="#505050" text-anchor="middle" textLength="10.32" lengthAdjust="spacingAndGlyphs" stroke="#505050" stroke-width="0.15">10</text>
<text x="1245.70" y="732.30" font-size="9.47" fill="#505050" text-anchor="middle" textLength="10.32" lengthAdjust="spacingAndGlyphs" stroke="#505050" stroke-width="0.15">15</text>
<text x="1312.20" y="732.30" font-size="9.47" fill="#505050" text-anchor="middle" textLength="10.32" lengthAdjust="spacingAndGlyphs" stroke="#505050" stroke-width="0.15">20</text>
<text x="1378.70" y="732.30" font-size="9.47" fill="#505050" text-anchor="middle" textLength="10.32" lengthAdjust="spacingAndGlyphs" stroke="#505050" stroke-width="0.15">25</text>
<text x="1445.20" y="732.30" font-size="9.47" fill="#505050" text-anchor="middle" textLength="10.32" lengthAdjust="spacingAndGlyphs" stroke="#505050" stroke-width="0.15">30</text>
<text x="1511.70" y="732.30" font-size="9.47" fill="#505050" text-anchor="middle" textLength="10.32" lengthAdjust="spacingAndGlyphs" stroke="#505050" stroke-width="0.15">35</text>
<text x="1278.90" y="749.50" font-size="10.48" fill="#505050" text-anchor="middle" textLength="71.47" lengthAdjust="spacingAndGlyphs" stroke="#505050" stroke-width="0.15">% of Sequences</text>
<g transform="translate(791.5,551.2) rotate(-90)">
<text x="0.00" y="0.00" font-size="10.51" fill="#505050" text-anchor="middle" textLength="88.50" lengthAdjust="spacingAndGlyphs" stroke="#505050" stroke-width="0.15">Enriched GO Terms</text>
</g>
<rect x="1317.1" y="613.2" width="21.5" height="11.3" fill="#0fb04f" stroke="#0b6b3c" stroke-width="0.8"/>
<text x="1349.8" y="626.8" font-family="'Liberation Sans', sans-serif" font-size="17.3" fill="#111">Molecular Functions</text>
<rect x="1318.0" y="636.2" width="21.5" height="11.3" fill="#ff0000" stroke="#a80e14" stroke-width="0.8"/>
<text x="1349.8" y="647.5" font-family="'Liberation Sans', sans-serif" font-size="17.3" fill="#111">Cellular Components</text>
<rect x="1317.3" y="660.0" width="21.5" height="11.3" fill="#4472c4" stroke="#2f4f8a" stroke-width="0.8"/>
<text x="1349.8" y="668.9" font-family="'Liberation Sans', sans-serif" font-size="17.3" fill="#111">Biological Process</text>
</svg>
</body></html>
